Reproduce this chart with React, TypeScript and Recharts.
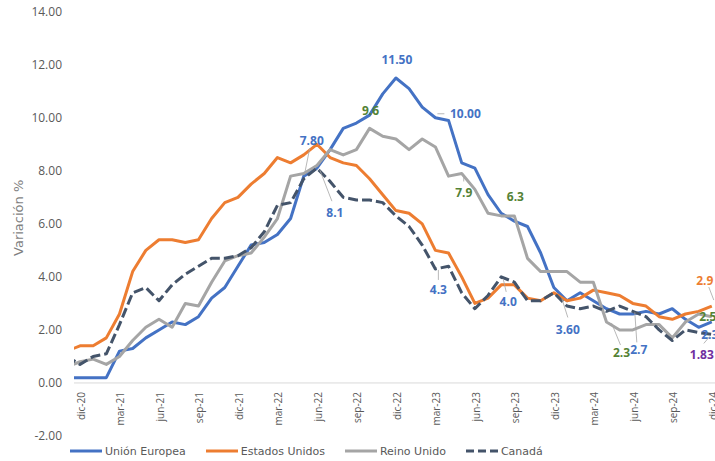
import React from "react";
import { LineChart, Line, XAxis, YAxis, ReferenceLine, Legend, LabelList } from "recharts";

// meses (nov-20 queda fuera del área, solo para que la línea entre por el borde)
const months = [
    "nov-20", "dic-20",
    "ene-21", "feb-21", "mar-21", "abr-21", "may-21", "jun-21", "jul-21", "ago-21", "sep-21", "oct-21", "nov-21", "dic-21",
    "ene-22", "feb-22", "mar-22", "abr-22", "may-22", "jun-22", "jul-22", "ago-22", "sep-22", "oct-22", "nov-22", "dic-22",
    "ene-23", "feb-23", "mar-23", "abr-23", "may-23", "jun-23", "jul-23", "ago-23", "sep-23", "oct-23", "nov-23", "dic-23",
    "ene-24", "feb-24", "mar-24", "abr-24", "may-24", "jun-24", "jul-24", "ago-24", "sep-24", "oct-24", "nov-24", "dic-24",
];

const unionEuropea = [
    0.2, 0.2,
    0.2, 0.2, 1.2, 1.3, 1.7, 2.0, 2.3, 2.2, 2.5, 3.2, 3.6, 4.4,
    5.2, 5.3, 5.6, 6.2, 7.8, 8.1, 8.8, 9.6, 9.8, 10.1, 10.9, 11.5,
    11.1, 10.4, 10.0, 9.9, 8.3, 8.1, 7.1, 6.4, 6.1, 5.9, 4.9, 3.6,
    3.1, 3.4, 3.1, 2.8, 2.6, 2.6, 2.7, 2.6, 2.8, 2.4, 2.1, 2.3,
];

const estadosUnidos = [
    1.2, 1.4,
    1.4, 1.7, 2.6, 4.2, 5.0, 5.4, 5.4, 5.3, 5.4, 6.2, 6.8, 7.0,
    7.5, 7.9, 8.5, 8.3, 8.6, 9.0, 8.5, 8.3, 8.2, 7.7, 7.1, 6.5,
    6.4, 6.0, 5.0, 4.9, 4.0, 3.0, 3.2, 3.7, 3.7, 3.2, 3.1, 3.4,
    3.1, 3.2, 3.5, 3.4, 3.3, 3.0, 2.9, 2.5, 2.4, 2.6, 2.7, 2.9,
];

const reinoUnido = [
    0.6, 0.8,
    0.9, 0.7, 1.0, 1.6, 2.1, 2.4, 2.1, 3.0, 2.9, 3.8, 4.6, 4.8,
    4.9, 5.5, 6.2, 7.8, 7.9, 8.2, 8.8, 8.6, 8.8, 9.6, 9.3, 9.2,
    8.8, 9.2, 8.9, 7.8, 7.9, 7.3, 6.4, 6.3, 6.3, 4.7, 4.2, 4.2,
    4.2, 3.8, 3.8, 2.3, 2.0, 2.0, 2.2, 2.2, 1.7, 2.3, 2.6, 2.5,
];

const canada = [
    1.0, 0.7,
    1.0, 1.1, 2.2, 3.4, 3.6, 3.1, 3.7, 4.1, 4.4, 4.7, 4.7, 4.8,
    5.1, 5.7, 6.7, 6.8, 7.7, 8.1, 7.6, 7.0, 6.9, 6.9, 6.8, 6.3,
    5.9, 5.2, 4.3, 4.4, 3.4, 2.8, 3.3, 4.0, 3.8, 3.1, 3.1, 3.4,
    2.9, 2.8, 2.9, 2.7, 2.9, 2.7, 2.5, 2.0, 1.6, 2.0, 1.9, 1.83,
];

const xTickLabels = [
    "dic-20", "mar-21", "jun-21", "sep-21", "dic-21", "mar-22", "jun-22", "sep-22", "dic-22",
    "mar-23", "jun-23", "sep-23", "dic-23", "mar-24", "jun-24", "sep-24", "dic-24",
];
const yTicks = [-2, 0, 2, 4, 6, 8, 10, 12, 14];

const BLUE = "#4472C4";
const ORANGE = "#ED7D31";
const GRAY = "#A5A5A5";
const NAVY = "#44546A";
const GREEN = "#548235";
const PURPLE = "#7030A0";
const TEXT = "#595959";

type SeriesKey = "eu" | "us" | "uk" | "ca";

const seriesValues: Record<SeriesKey, number[]> = {
    eu: unionEuropea,
    us: estadosUnidos,
    uk: reinoUnido,
    ca: canada,
};

// idx = 0 en dic-20
const data = months.map((m, i) => ({
    idx: i - 1,
    month: m,
    eu: unionEuropea[i],
    us: estadosUnidos[i],
    uk: reinoUnido[i],
    ca: canada[i],
}));

const xTicks = xTickLabels.map((m) => months.indexOf(m) - 1);

// etiquetas de datos (offsets en px desde el punto, líneas guía opcionales)
type Callout = {
    key: SeriesKey;
    month: string;
    digits: number;
    color: string;
    dx: number;
    dy: number;
    leader?: [number, number, number, number];
};

const callouts: Callout[] = [
    { key: "eu", month: "may-22", digits: 2, color: BLUE, dx: 8, dy: -36, leader: [6, -28, 1, -3] },
    { key: "ca", month: "jun-22", digits: 1, color: BLUE, dx: 18, dy: 44, leader: [3, 2, 15, 33] },
    { key: "uk", month: "oct-22", digits: 1, color: GREEN, dx: 1, dy: -18 },
    { key: "eu", month: "dic-22", digits: 2, color: BLUE, dx: 1, dy: -18 },
    { key: "eu", month: "mar-23", digits: 2, color: BLUE, dx: 30, dy: -4, leader: [2, -4, 9, -4] },
    { key: "uk", month: "may-23", digits: 1, color: GREEN, dx: 2, dy: 19, leader: [2, 2, 2, 8] },
    { key: "uk", month: "sep-23", digits: 1, color: GREEN, dx: 1, dy: -19 },
    { key: "ca", month: "mar-23", digits: 1, color: BLUE, dx: 3, dy: 21, leader: [3, 1, 3, 11] },
    { key: "ca", month: "ago-23", digits: 1, color: BLUE, dx: 7, dy: 25, leader: [2, 2, 5, 15] },
    { key: "eu", month: "dic-23", digits: 2, color: BLUE, dx: 14, dy: 42, leader: [8, 11, 14, 30] },
    { key: "uk", month: "abr-24", digits: 1, color: GREEN, dx: 15, dy: 31, leader: [5, 1, 14, 23] },
    { key: "ca", month: "jun-24", digits: 1, color: BLUE, dx: 6, dy: 38, leader: [2, 1, 4, 31] },
    { key: "us", month: "dic-24", digits: 1, color: ORANGE, dx: -7, dy: -26, leader: [-3, -19, 2, -6] },
    { key: "uk", month: "dic-24", digits: 1, color: GREEN, dx: -4, dy: 0 },
    { key: "eu", month: "dic-24", digits: 1, color: BLUE, dx: -2, dy: 13 },
    { key: "ca", month: "dic-24", digits: 2, color: PURPLE, dx: -10, dy: 20, leader: [-2, 2, -8, 9] },
];

const CHART_W = 721;
const CHART_H = 461;
const PLOT_TOP = 11.7;
const PLOT_BOTTOM = 436;
const X_AXIS_H = 1;
const Y_MIN = -2;
const Y_MAX = 14;
const Y_ZERO = PLOT_TOP + ((Y_MAX - 0) / (Y_MAX - Y_MIN)) * (PLOT_BOTTOM - PLOT_TOP);

const MonthTick = (props: any) => {
    const { x, payload } = props;
    const label = months[payload.value + 1];
    const ty = Y_ZERO + 9;
    return (
        <text
            x={x}
            y={ty}
            dy={1}
            transform={`rotate(-90 ${x} ${ty})`}
            textAnchor="end"
            dominantBaseline="central"
            fontFamily="Open Sans"
            fontSize={10}
            fill={TEXT}
        >
            {label}
        </text>
    );
};

const renderCallouts = (key: SeriesKey) => (props: any) => {
    const index = props.index;
    const c = callouts.find((it) => it.key === key && months.indexOf(it.month) === index);
    if (!c) return null;
    const vb = props.viewBox || {};
    const x = vb.x ?? props.x;
    const y = vb.y ?? props.y;
    if (x == null || y == null) return null;
    const value = seriesValues[key][index];
    return (
        <g key={`${key}-${index}`}>
            {c.leader && (
                <line
                    x1={x + c.leader[0]}
                    y1={y + c.leader[1]}
                    x2={x + c.leader[2]}
                    y2={y + c.leader[3]}
                    stroke="#A6A6A6"
                    strokeWidth={0.8}
                />
            )}
            <text
                x={x + c.dx}
                y={y + c.dy}
                textAnchor="middle"
                dominantBaseline="central"
                fontFamily="Open Sans"
                fontWeight={700}
                fontSize={12}
                fill={c.color}
            >
                {value.toFixed(c.digits)}
            </text>
        </g>
    );
};

const legendItems = [
    { name: "Unión Europea", color: BLUE, dash: undefined },
    { name: "Estados Unidos", color: ORANGE, dash: undefined },
    { name: "Reino Unido", color: GRAY, dash: undefined },
    { name: "Canadá", color: NAVY, dash: "8 4" },
];

const ChartLegend = () => (
    <div style={{ display: "flex", alignItems: "center", height: 18 }}>
        {legendItems.map((it) => (
            <div key={it.name} style={{ display: "flex", alignItems: "center", marginRight: 20 }}>
                <svg width={32} height={6} style={{ marginRight: 3 }}>
                    <line x1={0} y1={3} x2={32} y2={3} stroke={it.color} strokeWidth={3} strokeDasharray={it.dash} />
                </svg>
                <span style={{ fontFamily: "DejaVu Sans", fontSize: 11, color: TEXT }}>{it.name}</span>
            </div>
        ))}
    </div>
);

const YTitle = (props: any) => {
    const vb = props.viewBox;
    const cx = vb.x + 19;
    const cy = vb.y + vb.height / 2 - 6;
    return (
        <text
            x={cx}
            y={cy}
            transform={`rotate(-90 ${cx} ${cy})`}
            textAnchor="middle"
            dominantBaseline="central"
            fontFamily="DejaVu Sans"
            fontSize={13}
            fill="#7F7F7F"
        >
            Variación %
        </text>
    );
};

const lines: { key: SeriesKey; name: string; color: string; dash?: string }[] = [
    { key: "eu", name: "Unión Europea", color: BLUE },
    { key: "us", name: "Estados Unidos", color: ORANGE },
    { key: "uk", name: "Reino Unido", color: GRAY },
    { key: "ca", name: "Canadá", color: NAVY, dash: "10 4" },
];

export default function App() {
    return (
        <div
            style={{
                position: "absolute",
                left: 0,
                top: 0,
                width: 715,
                height: CHART_H,
                overflow: "hidden",
                background: "#fff",
            }}
        >
            <LineChart
                width={CHART_W}
                height={CHART_H}
                data={data}
                margin={{ top: PLOT_TOP, right: 0, bottom: CHART_H - PLOT_BOTTOM - X_AXIS_H, left: 0 }}
            >
                <XAxis
                    type="number"
                    dataKey="idx"
                    domain={[-0.456, 48.7]}
                    allowDataOverflow
                    ticks={xTicks}
                    interval={0}
                    tick={<MonthTick />}
                    axisLine={false}
                    tickLine={false}
                    height={X_AXIS_H}
                />
                <YAxis
                    domain={[Y_MIN, Y_MAX]}
                    ticks={yTicks}
                    interval={0}
                    width={74}
                    axisLine={false}
                    tickLine={false}
                    tickMargin={6}
                    tickFormatter={(v: number) => v.toFixed(2)}
                    tick={{ fontFamily: "Open Sans", fontSize: 12, fill: TEXT }}
                    label={{ content: YTitle }}
                />
                <ReferenceLine y={0} stroke="#D9D9D9" strokeWidth={1} />
                {lines.map((l) => (
                    <Line
                        key={l.key}
                        type="linear"
                        dataKey={l.key}
                        name={l.name}
                        stroke={l.color}
                        strokeWidth={3}
                        strokeDasharray={l.dash}
                        strokeLinejoin="round"
                        dot={false}
                        activeDot={false}
                        isAnimationActive={false}
                    />
                ))}
                {/* capas solo de etiquetas, encima de todas las líneas */}
                {lines.map((l) => (
                    <Line
                        key={`lbl-${l.key}`}
                        type="linear"
                        dataKey={l.key}
                        stroke="none"
                        dot={false}
                        activeDot={false}
                        legendType="none"
                        isAnimationActive={false}
                    >
                        <LabelList dataKey={l.key} content={renderCallouts(l.key)} />
                    </Line>
                ))}
                <Legend
                    layout="horizontal"
                    verticalAlign="middle"
                    align="center"
                    wrapperStyle={{ top: 442, left: 70, width: 620, height: 18 }}
                    content={<ChartLegend />}
                />
            </LineChart>
        </div>
    );
}
